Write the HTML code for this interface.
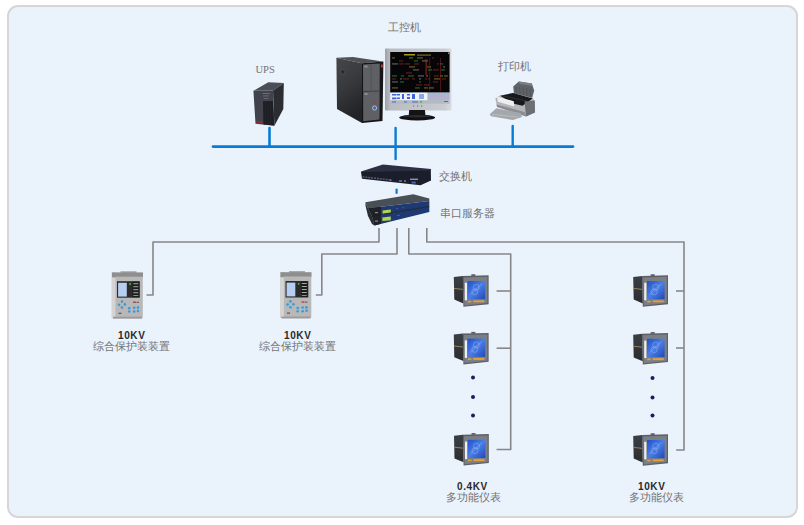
<!DOCTYPE html>
<html><head><meta charset="utf-8">
<style>
html,body{margin:0;padding:0;background:#fff;width:804px;height:525px;overflow:hidden;}
body{position:relative;font-family:"Liberation Sans",sans-serif;}
#box{position:absolute;left:7px;top:5px;width:791px;height:513px;box-sizing:border-box;border:2px solid #d6d6d8;border-radius:11px;background:#eaf2fc;}
svg{position:absolute;left:0;top:0;}
.t{position:absolute;color:#737373;font-size:11px;line-height:11px;white-space:nowrap;letter-spacing:0px;}
.b{position:absolute;color:#2a2a2a;font-size:10px;line-height:10px;font-weight:bold;white-space:nowrap;letter-spacing:0.6px;}
</style></head>
<body>
<div id="box"></div>
<svg width="804" height="525" viewBox="0 0 804 525">
  <defs>
    <linearGradient id="scr" x1="0" y1="0" x2="1" y2="1">
      <stop offset="0" stop-color="#2050c8"/><stop offset="0.5" stop-color="#4a7ee6"/><stop offset="1" stop-color="#2048b8"/>
    </linearGradient>
    <linearGradient id="side" x1="0" y1="0" x2="0" y2="1">
      <stop offset="0" stop-color="#3c3f44"/><stop offset="1" stop-color="#2a2c30"/>
    </linearGradient>
    <linearGradient id="towerSide" x1="0" y1="0" x2="0.3" y2="1">
      <stop offset="0" stop-color="#45474a"/><stop offset="0.5" stop-color="#37393c"/><stop offset="1" stop-color="#222326"/>
    </linearGradient>
    <g id="meter">
      <polygon points="0,2.2 9.2,1.2 9.6,28.6 0.5,24.8" fill="url(#side)"/>
      <line x1="0.2" y1="13.6" x2="9.3" y2="14.6" stroke="#a08c64" stroke-width="0.9"/>
      <polygon points="8.9,1.2 34.8,0.5 34.8,29.4 9.6,32" fill="#5c6066"/>
      <polygon points="10,2.6 33.6,2 33.6,28.3 10.6,30.6" fill="#7b7f85"/>
      <rect x="17.5" y="-0.5" width="4" height="1.6" fill="#55585c"/>
      <rect x="11" y="8" width="2.2" height="17.5" fill="#eef0f0"/>
      <rect x="13.8" y="6.2" width="17.6" height="18.2" fill="url(#scr)"/>
      <g fill="none" stroke="#a6c0f4" stroke-width="0.6" opacity="0.7">
        <circle cx="22.5" cy="12.5" r="3"/><circle cx="21" cy="17" r="3"/><path d="M16 20 L28 9"/>
      </g>
      <rect x="14" y="26" width="3.5" height="1.6" fill="#e3a035"/>
      <rect x="19.5" y="25.6" width="11" height="1.9" fill="#e3a035"/>
    </g>
    <g id="relay">
      <rect x="0" y="1" width="4.5" height="46" fill="#d4d4d4"/>
      <rect x="9" y="0" width="16" height="2" fill="#a9a9a9"/>
      <rect x="0.5" y="1.2" width="31" height="5" fill="#8e8e8e"/>
      <rect x="3.9" y="5.5" width="27.4" height="41" fill="#b8b8b8"/>
      <rect x="5.5" y="10" width="22.8" height="16.5" fill="#2b2b2b"/>
      <rect x="6.6" y="11.6" width="8.7" height="13.8" fill="#b6cff0"/>
      <circle cx="18.6" cy="12.8" r="0.9" fill="#3fcf4a"/>
      <rect x="21" y="10.6" width="6.6" height="15.4" fill="#1c1c1c"/>
      <g fill="#a8a8a8"><rect x="21.8" y="12" width="5" height="1"/><rect x="21.8" y="15" width="5" height="1"/><rect x="21.8" y="18" width="5" height="1"/><rect x="21.8" y="21" width="5" height="1"/><rect x="21.8" y="24" width="5" height="0.8"/></g>
      <g fill="#3b9ad6">
        <circle cx="10.5" cy="30.4" r="1.3"/><circle cx="7.6" cy="33.6" r="1.3"/><circle cx="13.4" cy="33.2" r="1.3"/><circle cx="10.5" cy="36.3" r="1.3"/>
        <circle cx="17.7" cy="37" r="1.3"/><circle cx="22.7" cy="36.5" r="1.3"/><circle cx="26.5" cy="36.4" r="1.3"/>
        <circle cx="17.7" cy="40.3" r="1.3"/><circle cx="22.7" cy="40.3" r="1.3"/><circle cx="26.5" cy="39.8" r="1.3"/>
      </g>
      <rect x="21.5" y="30.4" width="3" height="1.3" fill="#c83030"/>
      <rect x="25" y="30.6" width="2.5" height="1" fill="#555"/>
      <rect x="7" y="41.5" width="3" height="1.2" fill="#555"/>
      <rect x="1.5" y="45.5" width="29" height="2" fill="#9c9c9c"/>
    </g>
  </defs>

  <!-- blue bus -->
  <g stroke="#0a7bd4" stroke-linecap="round" fill="none">
    <line x1="213" y1="146.6" x2="573" y2="146.6" stroke-width="2.7"/>
    <line x1="269.5" y1="128" x2="269.5" y2="146" stroke-width="2.6"/>
    <line x1="395.6" y1="128" x2="395.6" y2="159" stroke-width="2.4"/>
    <line x1="512.7" y1="126" x2="512.7" y2="146" stroke-width="2.4"/>
    <line x1="396.6" y1="189.5" x2="396.6" y2="193" stroke-width="2.2"/>
  </g>
  <!-- gray lines -->
  <g stroke="#868686" stroke-width="1.6" fill="none" stroke-linejoin="round">
    <polyline points="379,228 379,242 153,242 153,295 146.5,295"/>
    <polyline points="397,228 397,254 321.8,254 321.8,295 315.8,295"/>
    <polyline points="408.8,228 408.8,254 510.7,254 510.7,449.5 496.6,449.5"/>
    <line x1="496.6" y1="291" x2="510.7" y2="291"/>
    <line x1="496.6" y1="348.2" x2="510.7" y2="348.2"/>
    <polyline points="426.8,228 426.8,242 684,242 684,450 676.2,450"/>
    <line x1="676" y1="291" x2="684" y2="291"/>
    <line x1="676" y1="348" x2="684" y2="348"/>
  </g>


  <!-- UPS -->
  <g>
    <polygon points="253.4,90.8 268.3,82.2 283.8,83 273,90.6" fill="#4b4e56"/>
    <polygon points="273,90.6 283.8,83 283.3,109 274.4,125.8" fill="#2b2d33"/>
    <polygon points="253.4,90.8 273,90.6 274.4,125.8 255.5,123.8" fill="#40434c"/>
    <polygon points="263,101.2 272.8,101 274.2,125.6 263.4,124.6" fill="#1e1f24"/>
    <g stroke="#2a2b30" stroke-width="0.4"><line x1="265.5" y1="101.2" x2="265.7" y2="124.8"/><line x1="268" y1="101.1" x2="268.3" y2="125"/><line x1="270.5" y1="101" x2="270.8" y2="125.2"/></g>
    <rect x="256.5" y="121.2" width="6" height="1.8" fill="#9a2a2e"/>
    <g fill="#6e727a"><rect x="262.5" y="93" width="7.5" height="0.9"/><rect x="263" y="95.5" width="6" height="0.9"/><rect x="263.5" y="98" width="5" height="0.8"/></g>
  </g>
  <!-- computer tower -->
  <g>
    <polygon points="336.4,57.7 353,57 383,61.5 362,63.2" fill="#505255"/>
    <polygon points="336.4,57.7 362,63.2 362,123 337,109" fill="url(#towerSide)"/>
    <polygon points="362,63.2 383.4,61.5 382.5,121 362,123" fill="#151517"/>
    <polygon points="363,64.6 379.8,63.6 379.5,119.6 363.2,121.2" fill="#5e6063"/>
    <line x1="371.2" y1="64" x2="371.2" y2="90" stroke="#4a4c4f" stroke-width="0.6"/>
    <line x1="363" y1="91.5" x2="379.6" y2="91" stroke="#35373a" stroke-width="0.8"/>
    <rect x="364.5" y="65.5" width="3" height="2" fill="#8a9098"/>
    <rect x="364.5" y="93" width="3" height="2" fill="#8a9098"/>
    <circle cx="342.8" cy="71.8" r="2.5" fill="#2a2b2e" stroke="#5a5c60" stroke-width="0.7"/>
    <circle cx="374.6" cy="108" r="2.1" fill="#3d6ac0" stroke="#d0d8ea" stroke-width="0.7"/>
    <circle cx="374" cy="102.5" r="0.8" fill="#b03030"/>
    <rect x="381" y="64.5" width="1.8" height="3" fill="#c8303a"/>
  </g>
  <!-- monitor -->
  <g>
    <linearGradient id="bez" x1="0" y1="0" x2="1" y2="0">
      <stop offset="0" stop-color="#9ea2a6"/><stop offset="0.08" stop-color="#b9bdc1"/><stop offset="0.9" stop-color="#c9cdd1"/><stop offset="1" stop-color="#d9dde0"/>
    </linearGradient>
    <rect x="385" y="48.6" width="66.5" height="62" rx="0.8" fill="url(#bez)"/>
    <rect x="390.2" y="52" width="59.4" height="40.6" fill="#060608"/>
    <g opacity="0.8">
    <rect x="392" y="57.5" width="3" height="0.9" fill="#a89a20"/>
    <rect x="409" y="57.5" width="4" height="0.9" fill="#a89a20"/>
    <rect x="417" y="57.5" width="6" height="0.9" fill="#a89a20"/>
    <rect x="432" y="57.5" width="2" height="0.9" fill="#a82828"/>
    <rect x="399" y="60.5" width="4" height="0.9" fill="#a82828"/>
    <rect x="414" y="60.5" width="4" height="0.9" fill="#2aa83a"/>
    <rect x="422" y="60.5" width="6" height="0.9" fill="#9a9a9a"/>
    <rect x="392" y="63.5" width="6" height="0.9" fill="#9a9a9a"/>
    <rect x="399" y="63.5" width="5" height="0.9" fill="#a82828"/>
    <rect x="405" y="63.5" width="5" height="0.9" fill="#a82828"/>
    <rect x="414" y="63.5" width="5" height="0.9" fill="#a82828"/>
    <rect x="437" y="63.5" width="2" height="0.9" fill="#a82828"/>
    <rect x="440" y="63.5" width="3" height="0.9" fill="#2aa83a"/>
    <rect x="409" y="66.5" width="6" height="0.9" fill="#a89a20"/>
    <rect x="427" y="66.5" width="4" height="0.9" fill="#a89a20"/>
    <rect x="443" y="66.5" width="2" height="0.9" fill="#9a9a9a"/>
    <rect x="413" y="69.5" width="6" height="0.9" fill="#9a9a9a"/>
    <rect x="428" y="69.5" width="4" height="0.9" fill="#2aa83a"/>
    <rect x="433" y="69.5" width="6" height="0.9" fill="#a82828"/>
    <rect x="441" y="69.5" width="4" height="0.9" fill="#2aa83a"/>
    <rect x="406" y="72.5" width="6" height="0.9" fill="#a82828"/>
    <rect x="392" y="75.5" width="5" height="0.9" fill="#2aa83a"/>
    <rect x="401" y="75.5" width="3" height="0.9" fill="#2aa83a"/>
    <rect x="408" y="75.5" width="6" height="0.9" fill="#2aa83a"/>
    <rect x="418" y="75.5" width="6" height="0.9" fill="#9a9a9a"/>
    <rect x="426" y="75.5" width="2" height="0.9" fill="#9a9a9a"/>
    <rect x="434" y="75.5" width="5" height="0.9" fill="#a82828"/>
    <rect x="440" y="75.5" width="3" height="0.9" fill="#a89a20"/>
    <rect x="444" y="75.5" width="4" height="0.9" fill="#a89a20"/>
    <rect x="392" y="78.5" width="4" height="0.9" fill="#a82828"/>
    <rect x="400" y="78.5" width="2" height="0.9" fill="#9a9a9a"/>
    <rect x="403" y="78.5" width="6" height="0.9" fill="#a82828"/>
    <rect x="412" y="78.5" width="3" height="0.9" fill="#a82828"/>
    <rect x="419" y="78.5" width="2" height="0.9" fill="#9a9a9a"/>
    <rect x="425" y="78.5" width="2" height="0.9" fill="#a82828"/>
    <rect x="428" y="78.5" width="2" height="0.9" fill="#a82828"/>
    <rect x="434" y="78.5" width="6" height="0.9" fill="#a89a20"/>
    <rect x="442" y="78.5" width="4" height="0.9" fill="#a82828"/>
    <rect x="392" y="81.5" width="6" height="0.9" fill="#9a9a9a"/>
    <rect x="400" y="81.5" width="4" height="0.9" fill="#2aa83a"/>
    <rect x="419" y="81.5" width="2" height="0.9" fill="#2aa83a"/>
    <rect x="433" y="81.5" width="5" height="0.9" fill="#a82828"/>
    <rect x="416" y="84.5" width="6" height="0.9" fill="#a82828"/>
    <rect x="424" y="84.5" width="5" height="0.9" fill="#a82828"/>
    <rect x="392" y="87.5" width="6" height="0.9" fill="#a89a20"/>
    <rect x="415" y="87.5" width="5" height="0.9" fill="#2aa83a"/>
    <rect x="424" y="87.5" width="4" height="0.9" fill="#a89a20"/>
    <rect x="429" y="87.5" width="5" height="0.9" fill="#a89a20"/>
    </g>
    <g fill="#a89a20"><rect x="404" y="54" width="11" height="1.5"/><rect x="417" y="54.5" width="14" height="1.2" opacity="0.7"/><rect x="448" y="52.5" width="1.5" height="1.5"/></g>
    <g fill="#a82828" opacity="0.7"><rect x="425.5" y="59" width="1.3" height="16"/><rect x="429.5" y="58" width="0.6" height="33"/><rect x="440" y="58" width="0.6" height="33"/></g>
    <rect x="390.2" y="92.6" width="37.4" height="7.8" fill="#eef2fa"/>
    <rect x="427.6" y="92.6" width="22" height="7.8" fill="#a6b8d2"/>
    <g fill="#3f64d8">
      <rect x="392" y="94" width="4.5" height="1.5"/><rect x="392" y="97.5" width="4.5" height="1.8"/><rect x="397" y="94" width="3" height="1.5"/><rect x="397" y="97.5" width="3" height="1.5"/>
      <rect x="402" y="94" width="2" height="5"/><rect x="407" y="94" width="3" height="1.5"/><rect x="407" y="97" width="3" height="2"/><rect x="412" y="94" width="3" height="5"/>
      <rect x="419" y="94" width="5" height="5" fill="#8aa8e8"/>
    </g>
    <g fill="#c8a8c8"><rect x="429" y="95" width="4" height="2"/><rect x="435" y="95" width="4" height="2"/><rect x="441" y="95" width="4" height="2"/></g>
    <rect x="390.2" y="100.4" width="59.4" height="3.2" fill="#b4b8c0"/>
    <g fill="#4a6ac0"><rect x="392" y="101.5" width="4" height="1"/><rect x="404" y="101.5" width="3" height="1"/><rect x="412" y="101.5" width="6" height="1"/><rect x="444" y="101" width="4" height="1"/></g>
    <circle cx="421" cy="101.8" r="1.1" fill="#40c040"/>
    <g fill="#6a6e74"><rect x="413" y="105.5" width="1.2" height="1"/><rect x="417" y="105.5" width="1.2" height="1"/><rect x="421" y="105.5" width="1.2" height="1"/></g>
    <polygon points="409.2,110 424.9,110 425.5,115.6 408.7,115.6" fill="#141417"/>
    <ellipse cx="417.2" cy="117.5" rx="18" ry="3" fill="#111114"/>
    <ellipse cx="417.2" cy="116.2" rx="14" ry="1.2" fill="#2c2c30"/>
  </g>
  <!-- printer -->
  <g>
    <polygon points="513.2,86.5 518.8,81.5 531.8,83.6 534.2,90.5 532,98.5 514,94" fill="#5f6267"/>
    <polygon points="518.8,81.5 531.8,83.6 532.5,86 519.5,84" fill="#7a7d82"/>
    <g stroke="#45484c" stroke-width="0.6"><line x1="516" y1="87" x2="516.8" y2="94"/><line x1="519.5" y1="87" x2="520.3" y2="95"/><line x1="523" y1="87.5" x2="523.8" y2="96"/><line x1="526.5" y1="88" x2="527.3" y2="97"/><line x1="530" y1="88.5" x2="530.5" y2="97.5"/></g>
    <polygon points="495.4,98.5 500,95.6 513.2,92.8 532.6,98 534.8,101 535,112.5 526,116.5 497,106.5" fill="#b4b7ba"/>
    <polygon points="500.2,95.8 513.2,93 532.6,98.6 522.5,105.8 513,103.5" fill="#17181b"/>
    <g stroke="#4a4c50" stroke-width="0.5"><line x1="503" y1="96" x2="527" y2="101"/></g>
    <polygon points="497.2,96.6 513.8,101.2 514.2,106.6 497.8,101.8" fill="#eceef0"/>
    <polygon points="524.5,101.5 534.8,100.5 535,112.5 526,116.5" fill="#6c6f74"/>
    <polygon points="496.5,104.5 524.5,112 526,116.5 497,107" fill="#8a8d91"/>
    <polygon points="489.7,114.2 496.4,108.2 520.5,113 522,117 512.8,120 491,116.2" fill="#a4a7ab"/>
    <line x1="492" y1="114.5" x2="518" y2="117" stroke="#c8cbce" stroke-width="0.6"/>
  </g>
  <!-- switch -->
  <g>
    <polygon points="361,171.5 382.9,164.5 431.1,169 430.5,171.5 362,173" fill="#2c2f44"/>
    <polygon points="361,172 430.8,170.5 431,180.5 420.5,185.3 362,178.8" fill="#1b1d2b"/>
    <g fill="#5a5e74"><rect x="362.5" y="176.20" width="1.9" height="1.5"/><rect x="365.4" y="176.52" width="1.9" height="1.5"/><rect x="368.3" y="176.84" width="1.9" height="1.5"/><rect x="371.2" y="177.16" width="1.9" height="1.5"/><rect x="374.1" y="177.48" width="1.9" height="1.5"/><rect x="377.0" y="177.80" width="1.9" height="1.5"/><rect x="379.9" y="178.12" width="1.9" height="1.5"/><rect x="382.8" y="178.44" width="1.9" height="1.5"/><rect x="385.7" y="178.76" width="1.9" height="1.5"/><rect x="388.6" y="179.08" width="1.9" height="1.5"/></g>
    <g fill="#7a7e94"><rect x="390" y="179.5" width="1.5" height="1.5"/><rect x="399" y="180" width="3" height="2" opacity="0.7"/><rect x="404" y="180" width="2" height="2" opacity="0.7"/></g>
    <rect x="410" y="178.6" width="8" height="1.3" fill="#9a9eb8"/>
    <rect x="411.6" y="181.6" width="4.2" height="1.9" fill="#3a6ab8"/>
  </g>
  <!-- serial server -->
  <g>
    <polygon points="365.4,202.3 413.3,194.2 429.3,198.4 429.3,201 368,208.3" fill="#485056"/>
    <polygon points="368,208.3 429.3,201 429.3,206.5 372,216" fill="#1f3a72"/>
    <polygon points="368,208.3 381,206.8 381,214.5 372,216" fill="#1f2226"/>
    <polygon points="382.6,210.4 390.8,209.6 390.8,213.2 382.6,214" fill="#b4d450"/>
    <polygon points="372,216 429.3,206.5 429.3,212 374.5,225.5" fill="#1f3a72"/>
    <polygon points="372,216 381,214.5 381,223.8 374.5,225.5" fill="#1f2226"/>
    <polygon points="382.4,217.5 390.8,216.6 390.8,220.2 382.4,221.1" fill="#b4d450"/>
    <polygon points="365.4,202.3 368,208.3 372,216 374.5,225.5 372,224 368,216 365.6,206" fill="#2a2d31"/>
    <line x1="372" y1="216" x2="429.3" y2="206.5" stroke="#14161a" stroke-width="0.8"/>
    <rect x="375" y="212" width="3" height="1.2" fill="#8a8a8a"/>
    <rect x="375" y="220.5" width="3" height="1.2" fill="#8a8a8a"/>
    <g fill="#3a5a98"><rect x="396" y="208" width="2" height="1"/><rect x="402" y="207.2" width="2" height="1"/><rect x="397" y="215" width="3" height="1"/></g>
  </g>
  <!-- meters -->
  <use href="#meter" x="453.8" y="274.8"/>
  <use href="#meter" x="453.8" y="332.4"/>
  <use href="#meter" x="454" y="433.6"/>
  <use href="#meter" x="633.2" y="274.8"/>
  <use href="#meter" x="633.2" y="332.6"/>
  <use href="#meter" x="633.2" y="433.8"/>
  <!-- relays -->
  <use href="#relay" x="111.5" y="271.2"/>
  <use href="#relay" x="280" y="271"/>
  <!-- dots -->
  <g fill="#1b1d5c">
    <circle cx="473" cy="377.5" r="2"/>
    <circle cx="473" cy="397" r="2"/>
    <circle cx="473" cy="415.5" r="2"/>
    <circle cx="652.5" cy="378" r="2"/>
    <circle cx="652.5" cy="397.4" r="2"/>
    <circle cx="652.5" cy="415.6" r="2"/>
  </g>
</svg>
<div class="t" style="left:388px;top:22px;">工控机</div>
<div class="t" style="left:255.5px;top:63.5px;font-family:'Liberation Serif',serif;font-size:10.5px;">UPS</div>
<div class="t" style="left:498px;top:61px;">打印机</div>
<div class="t" style="left:439px;top:171px;">交换机</div>
<div class="t" style="left:440px;top:208px;">串口服务器</div>
<div class="b" style="left:118px;top:331px;">10KV</div>
<div class="t" style="left:93px;top:341px;">综合保护装装置</div>
<div class="b" style="left:284px;top:331px;">10KV</div>
<div class="t" style="left:259px;top:341px;">综合保护装装置</div>
<div class="b" style="left:457px;top:482px;">0.4KV</div>
<div class="t" style="left:446px;top:492px;">多功能仪表</div>
<div class="b" style="left:638px;top:482px;">10KV</div>
<div class="t" style="left:629px;top:492px;">多功能仪表</div>
</body></html>
